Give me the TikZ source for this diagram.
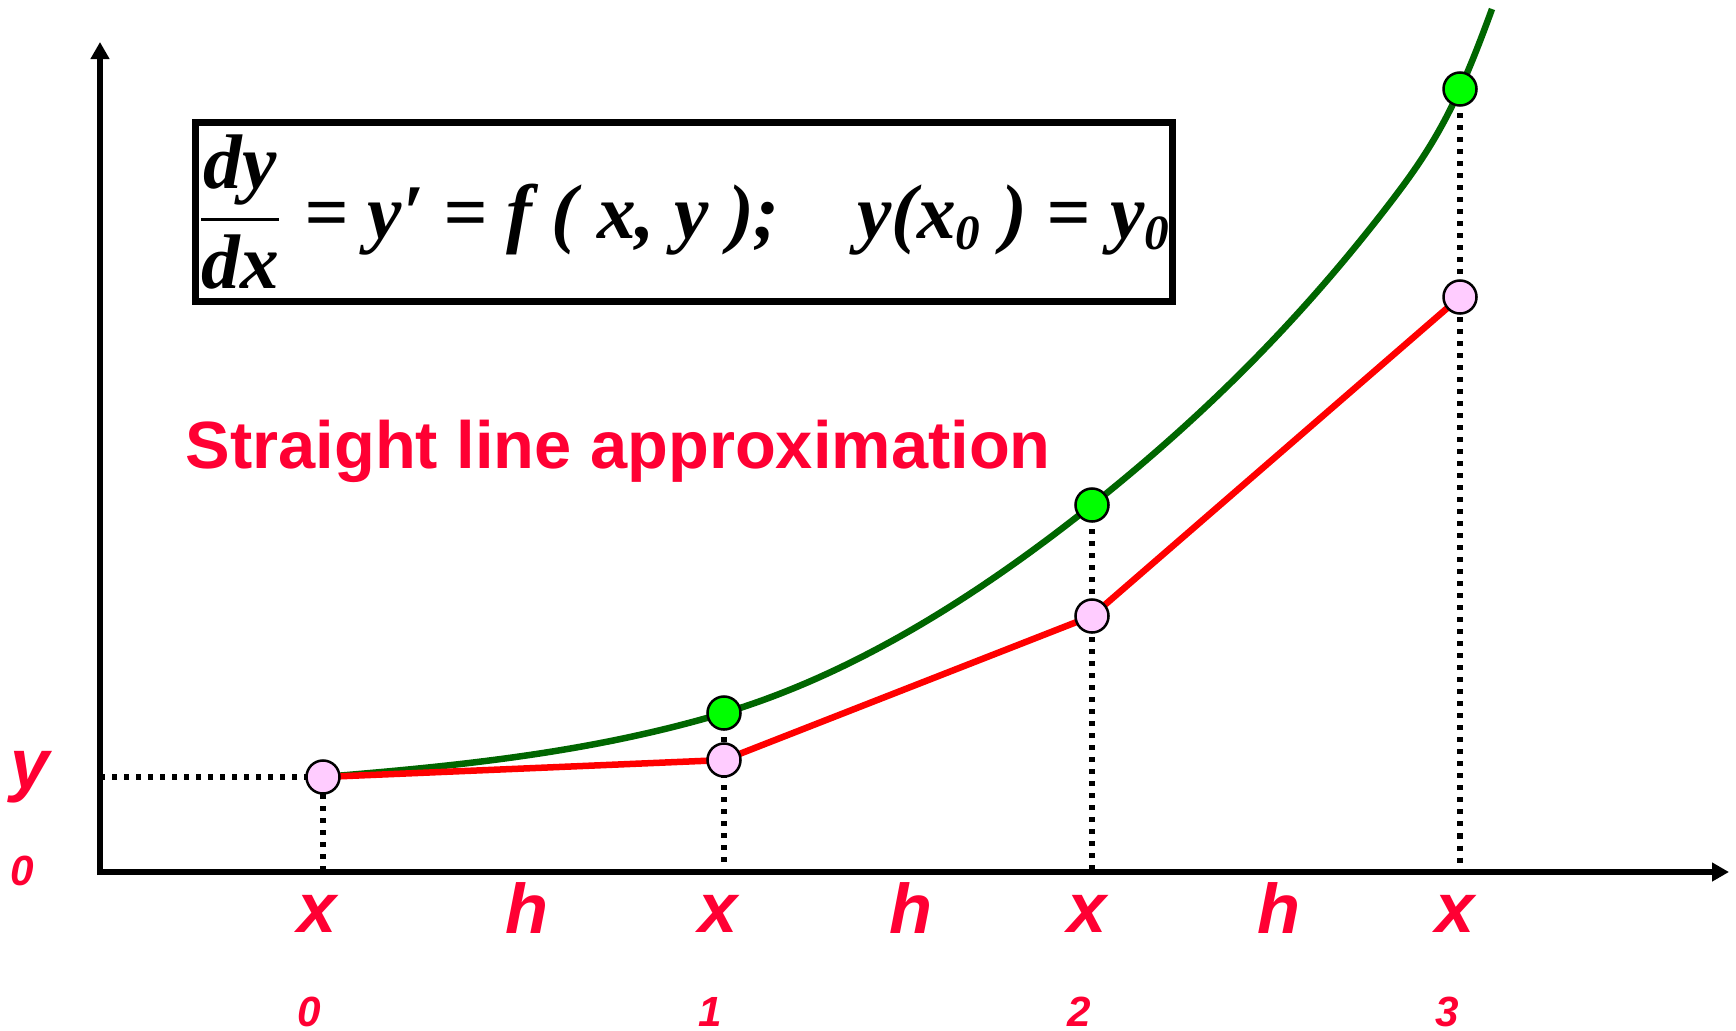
\documentclass[tikz,border=0pt]{standalone}
\usepackage{fontspec,amsmath}
\setmainfont{Liberation Serif}
\setsansfont{Liberation Sans}
\usetikzlibrary{arrows.meta}
\definecolor{lblred}{RGB}{255,0,51}
\definecolor{crvgreen}{RGB}{0,102,0}
\definecolor{dotgreen}{RGB}{0,255,0}
\definecolor{dotpink}{RGB}{255,204,255}

\begin{document}
\begin{tikzpicture}[x=0.01cm,y=-0.01cm,
  ax/.style={line width=0.055cm,-{Triangle[length=0.17cm,width=0.18cm]}},
  dl/.style={line width=0.055cm,dash pattern=on 0.05cm off 0.07cm},
  gdot/.style={circle,draw,line width=0.025cm,fill=dotgreen,minimum size=0.33cm,inner sep=0pt},
  pdot/.style={circle,draw,line width=0.025cm,fill=dotpink,minimum size=0.33cm,inner sep=0pt},
  lbl/.style={text=lblred,font=\sffamily\bfseries\itshape\fontsize{20}{24}\selectfont,inner sep=0pt,anchor=base},
  sub/.style={text=lblred,font=\sffamily\bfseries\itshape\fontsize{12}{14}\selectfont,inner sep=0pt,anchor=base}]
  \useasboundingbox (0,0) rectangle (1736,1030);
  % points
  \coordinate (o) at (100,872);
  \coordinate (p0) at (323,777);
  \coordinate (r1) at (724,760); \coordinate (g1) at (724,713);
  \coordinate (r2) at (1092,616); \coordinate (g2) at (1092,505);
  \coordinate (r3) at (1460,297); \coordinate (g3) at (1460,89);
  \coordinate (gq) at (1390,203); \coordinate (gend) at (1492,9);
  % axes
  \draw[ax] (100,875) -- (100,42);
  \draw[ax] (98,872) -- (1729,872);
  % dotted guides
  \draw[dl] (o |- p0) -- (p0) -- (p0 |- o);
  \foreach \i in {1,2,3} \draw[dl] (g\i) -- (g\i |- o);
  % exact and approximate solutions
  \draw[crvgreen,line width=0.065cm] (p0) .. controls (457,766) and (590,753) .. (g1)
    .. controls (847,676) and (969,603) .. (g2)
    .. controls (1191,426) and (1291,332) .. (gq)
    .. controls (1413,173) and (1437,140) .. (g3)
    .. controls (1471,65) and (1481,39) .. (gend);
  \draw[red,line width=0.065cm] (p0) -- (r1) -- (r2) -- (r3);
  \node[pdot] (n0) at (p0) {};
  \foreach \i in {1,2,3} {
    \node[pdot] (m\i) at (r\i) {};
    \node[gdot] (n\i) at (g\i) {};
  }
  % equation
  \node[draw,line width=0.07cm,minimum width=9.77cm,minimum height=1.78cm,inner sep=0pt,
    font=\bfseries\itshape\fontsize{22}{26}\selectfont] (eq) at (684,212)
    {$\dfrac{\text{dy}}{\text{dx}}$\;= y′ = f ( x, y );\quad y(x\textsubscript{\fontsize{14}{14}\selectfont 0} ) = y\textsubscript{\fontsize{14}{14}\selectfont 0}};
  \node[text=lblred,font=\sffamily\bfseries\fontsize{19}{23}\selectfont,inner sep=0pt,anchor=base west] (st) at (185,468) {Straight line approximation};
  % axis labels
  \foreach \xp/\n in {317/0,718/1,1087/2,1455/3} {
    \node[lbl] (x\n) at (\xp,932) {x};
    \node[sub] (s\n) at (\xp-8,1026) {\n};
  }
  \foreach \xp/\n in {527/1,911/2,1279/3} \node[lbl] (h\n) at (\xp,933) {h};
  \node[lbl] (y0) at (30,788) {y};
  \node[sub] (y0s) at (22,885) {0};
\end{tikzpicture}
\end{document}
